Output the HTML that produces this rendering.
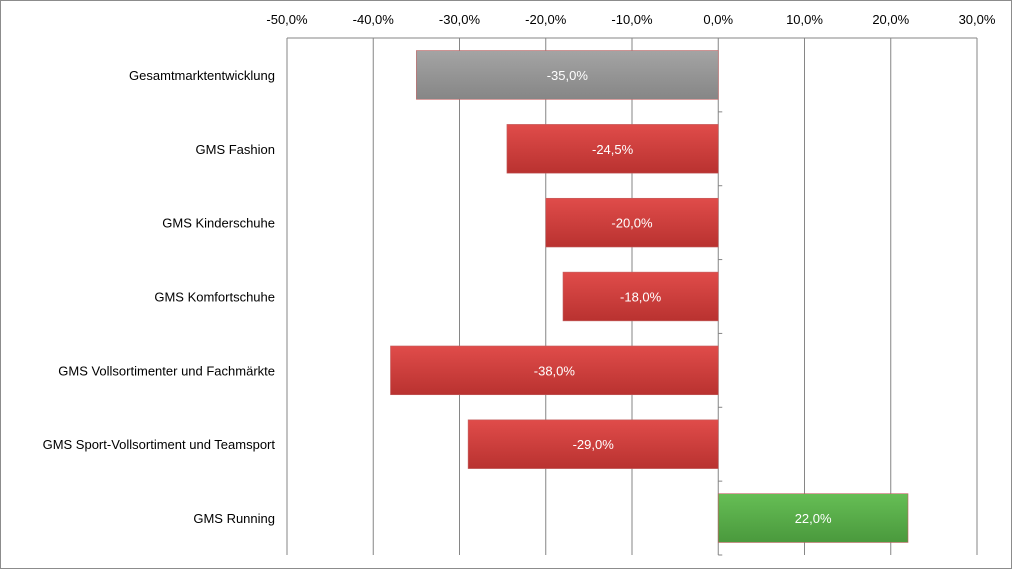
<!DOCTYPE html>
<html><head><meta charset="utf-8"><style>
html,body{margin:0;padding:0;background:#fff}
svg{display:block}
text{font-family:"Liberation Sans",Calibri,sans-serif}
</style></head><body>
<svg id="chart" width="1013" height="571" xmlns="http://www.w3.org/2000/svg">
<defs>
<linearGradient id="gGray" x1="0" y1="0" x2="0" y2="1"><stop offset="0" stop-color="#a4a4a4"/><stop offset="1" stop-color="#868686"/></linearGradient>
<linearGradient id="gRed" x1="0" y1="0" x2="0" y2="1"><stop offset="0" stop-color="#e04c4a"/><stop offset="1" stop-color="#b93230"/></linearGradient>
<linearGradient id="gGreen" x1="0" y1="0" x2="0" y2="1"><stop offset="0" stop-color="#66be55"/><stop offset="1" stop-color="#4a993d"/></linearGradient>
</defs>
<rect x="0.5" y="0.5" width="1011" height="568" fill="#fff" stroke="#8c8c8c"/>
<g id="grid"></g><g id="bars"></g><g id="labels"></g>
</svg>
<script>
const categories = ["Gesamtmarktentwicklung","GMS Fashion","GMS Kinderschuhe","GMS Komfortschuhe","GMS Vollsortimenter und Fachmärkte","GMS Sport-Vollsortiment und Teamsport","GMS Running"];
const values = [-35.0,-24.5,-20.0,-18.0,-38.0,-29.0,22.0];
const valueLabels = ["-35,0%","-24,5%","-20,0%","-18,0%","-38,0%","-29,0%","22,0%"];
const ticks = [-50,-40,-30,-20,-10,0,10,20,30];
const tickLabels = ["-50,0%","-40,0%","-30,0%","-20,0%","-10,0%","0,0%","10,0%","20,0%","30,0%"];
const fills = ["url(#gGray)","url(#gRed)","url(#gRed)","url(#gRed)","url(#gRed)","url(#gRed)","url(#gGreen)"];

const NS="http://www.w3.org/2000/svg";
const xMin=-50,xMax=30,x0=287,x1=977,yTop=38,yBot=555;
const xs=v=>x0+(v-xMin)/(xMax-xMin)*(x1-x0);
const band=(yBot-yTop)/categories.length;
const yc=i=>yTop+band*(i+0.5);
function mk(tag,attrs,parent){const e=document.createElementNS(NS,tag);for(const k in attrs)e.setAttribute(k,attrs[k]);parent.appendChild(e);return e;}
const grid=document.getElementById('grid'),bars=document.getElementById('bars'),labels=document.getElementById('labels');
ticks.forEach((t,i)=>{
  if(t!==0){const l=mk('line',{x1:xs(t),x2:xs(t),y1:yTop,y2:yBot,stroke:'#868686','stroke-width':1},grid);
  
  }
  const tx=mk('text',{x:xs(t),y:24,'text-anchor':'middle','font-size':13,fill:'#000'},labels);
  tx.textContent=tickLabels[i];
  
  
});
const ax=mk('line',{x1:287,x2:977,y1:yTop,y2:yTop,stroke:'#868686'},grid);


const bh=band*0.66;
values.forEach((v,i)=>{
  const a=xs(Math.min(0,v)),b=xs(Math.max(0,v));
  const r=mk('rect',{x:a,y:yc(i)-bh/2,width:b-a,height:bh,fill:fills[i],stroke:'#c06060','stroke-width':0.6},bars);
  
  
  const t=mk('text',{x:(a+b)/2,y:yc(i)+5,'text-anchor':'middle','font-size':13,fill:'#fff'},labels);
  t.textContent=valueLabels[i];
  
  
  const c=mk('text',{x:275,y:yc(i)+5,'text-anchor':'end','font-size':13,fill:'#000'},labels);
  c.textContent=categories[i];
  
  
});
const za=mk('line',{x1:xs(0),x2:xs(0),y1:yTop,y2:yBot,stroke:'#868686'},grid);


for(let i=0;i<=categories.length;i++){
  const tk=mk('line',{x1:xs(0),x2:xs(0)+4,y1:yTop+band*i,y2:yTop+band*i,stroke:'#868686'},grid);
  
  
}
</script>
</body></html>
